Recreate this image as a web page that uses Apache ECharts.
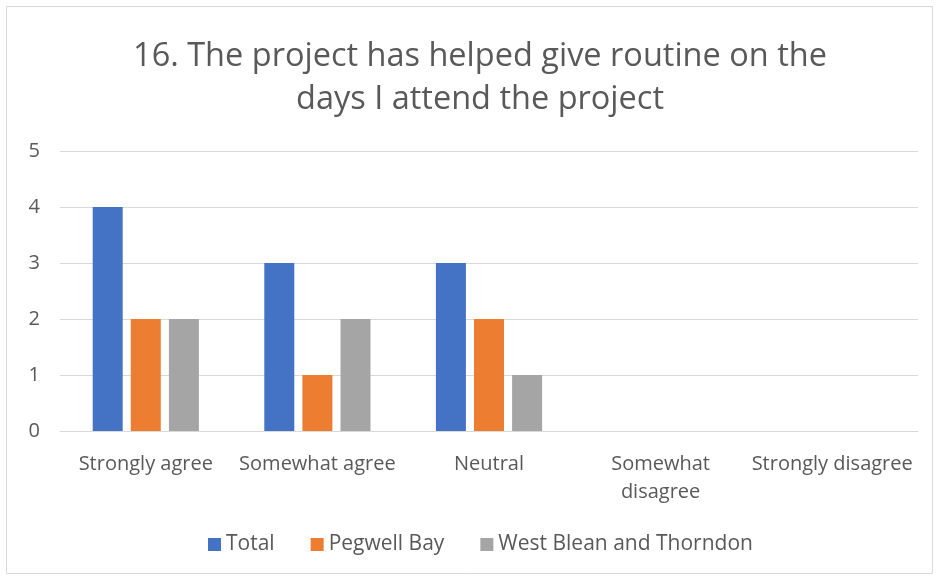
<!DOCTYPE html>
<html>
<head>
<meta charset="utf-8">
<script src="https://cdn.jsdelivr.net/npm/echarts@6/dist/echarts.min.js"></script>
<style>
  html, body { margin: 0; padding: 0; background: #fff; }
  #chart { width: 936px; height: 577px; }
</style>
</head>
<body>
<div id="chart"></div>
<script>
var categories = ["Strongly agree", "Somewhat agree", "Neutral", "Somewhat disagree", "Strongly disagree"];
var total = [4, 3, 3, 0, 0];
var pegwellBay = [2, 1, 2, 0, 0];
var westBlean = [2, 2, 1, 0, 0];
var yTicks = [0, 1, 2, 3, 4, 5];

var font = "'Open Sans', sans-serif";
var chart = echarts.init(document.getElementById("chart"));

chart.setOption({
  animation: false,
  textStyle: { fontFamily: font },
  graphic: [{
    type: "rect",
    shape: { x: 6.5, y: 6.5, width: 926, height: 567 },
    style: { fill: null, stroke: "#d9d9d9", lineWidth: 1 },
    silent: true
  }],
  title: {
    text: "16. The project has helped give routine on the\ndays I attend the project",
    left: 475,
    top: 30,
    textAlign: "center",
    textStyle: {
      fontFamily: font,
      fontSize: 32.5,
      fontWeight: "normal",
      color: "#595959",
      lineHeight: 43
    }
  },
  legend: {
    bottom: 17,
    left: 203,
    itemWidth: 13,
    itemHeight: 13,
    itemGap: 36,
    icon: "rect",
    textStyle: { fontFamily: font, fontSize: 21, color: "#595959" },
    data: ["Total", "Pegwell Bay", "West Blean and Thorndon"]
  },
  grid: { left: 60, right: 18, top: 151, bottom: 146, containLabel: false },
  xAxis: {
    type: "category",
    data: categories,
    axisLine: { show: true, lineStyle: { color: "#d9d9d9" } },
    axisTick: { show: false },
    axisLabel: {
      margin: 19,
      fontFamily: font,
      fontSize: 20,
      color: "#595959",
      lineHeight: 28,
      interval: 0,
      formatter: function (v) {
        return v === "Somewhat disagree" ? "Somewhat\ndisagree" : v;
      }
    }
  },
  yAxis: {
    type: "value",
    min: yTicks[0],
    max: yTicks[yTicks.length - 1],
    interval: 1,
    axisLine: { show: false },
    axisTick: { show: false },
    splitLine: { lineStyle: { color: "#d9d9d9" } },
    axisLabel: { margin: 20, fontFamily: font, fontSize: 20, color: "#595959" }
  },
  series: [
    { name: "Total", type: "bar", data: total, barWidth: 30, barGap: "27%", itemStyle: { color: "#4472c4" } },
    { name: "Pegwell Bay", type: "bar", data: pegwellBay, barWidth: 30, barGap: "27%", itemStyle: { color: "#ed7d31" } },
    { name: "West Blean and Thorndon", type: "bar", data: westBlean, barWidth: 30, barGap: "27%", itemStyle: { color: "#a5a5a5" } }
  ]
});
</script>
</body>
</html>
